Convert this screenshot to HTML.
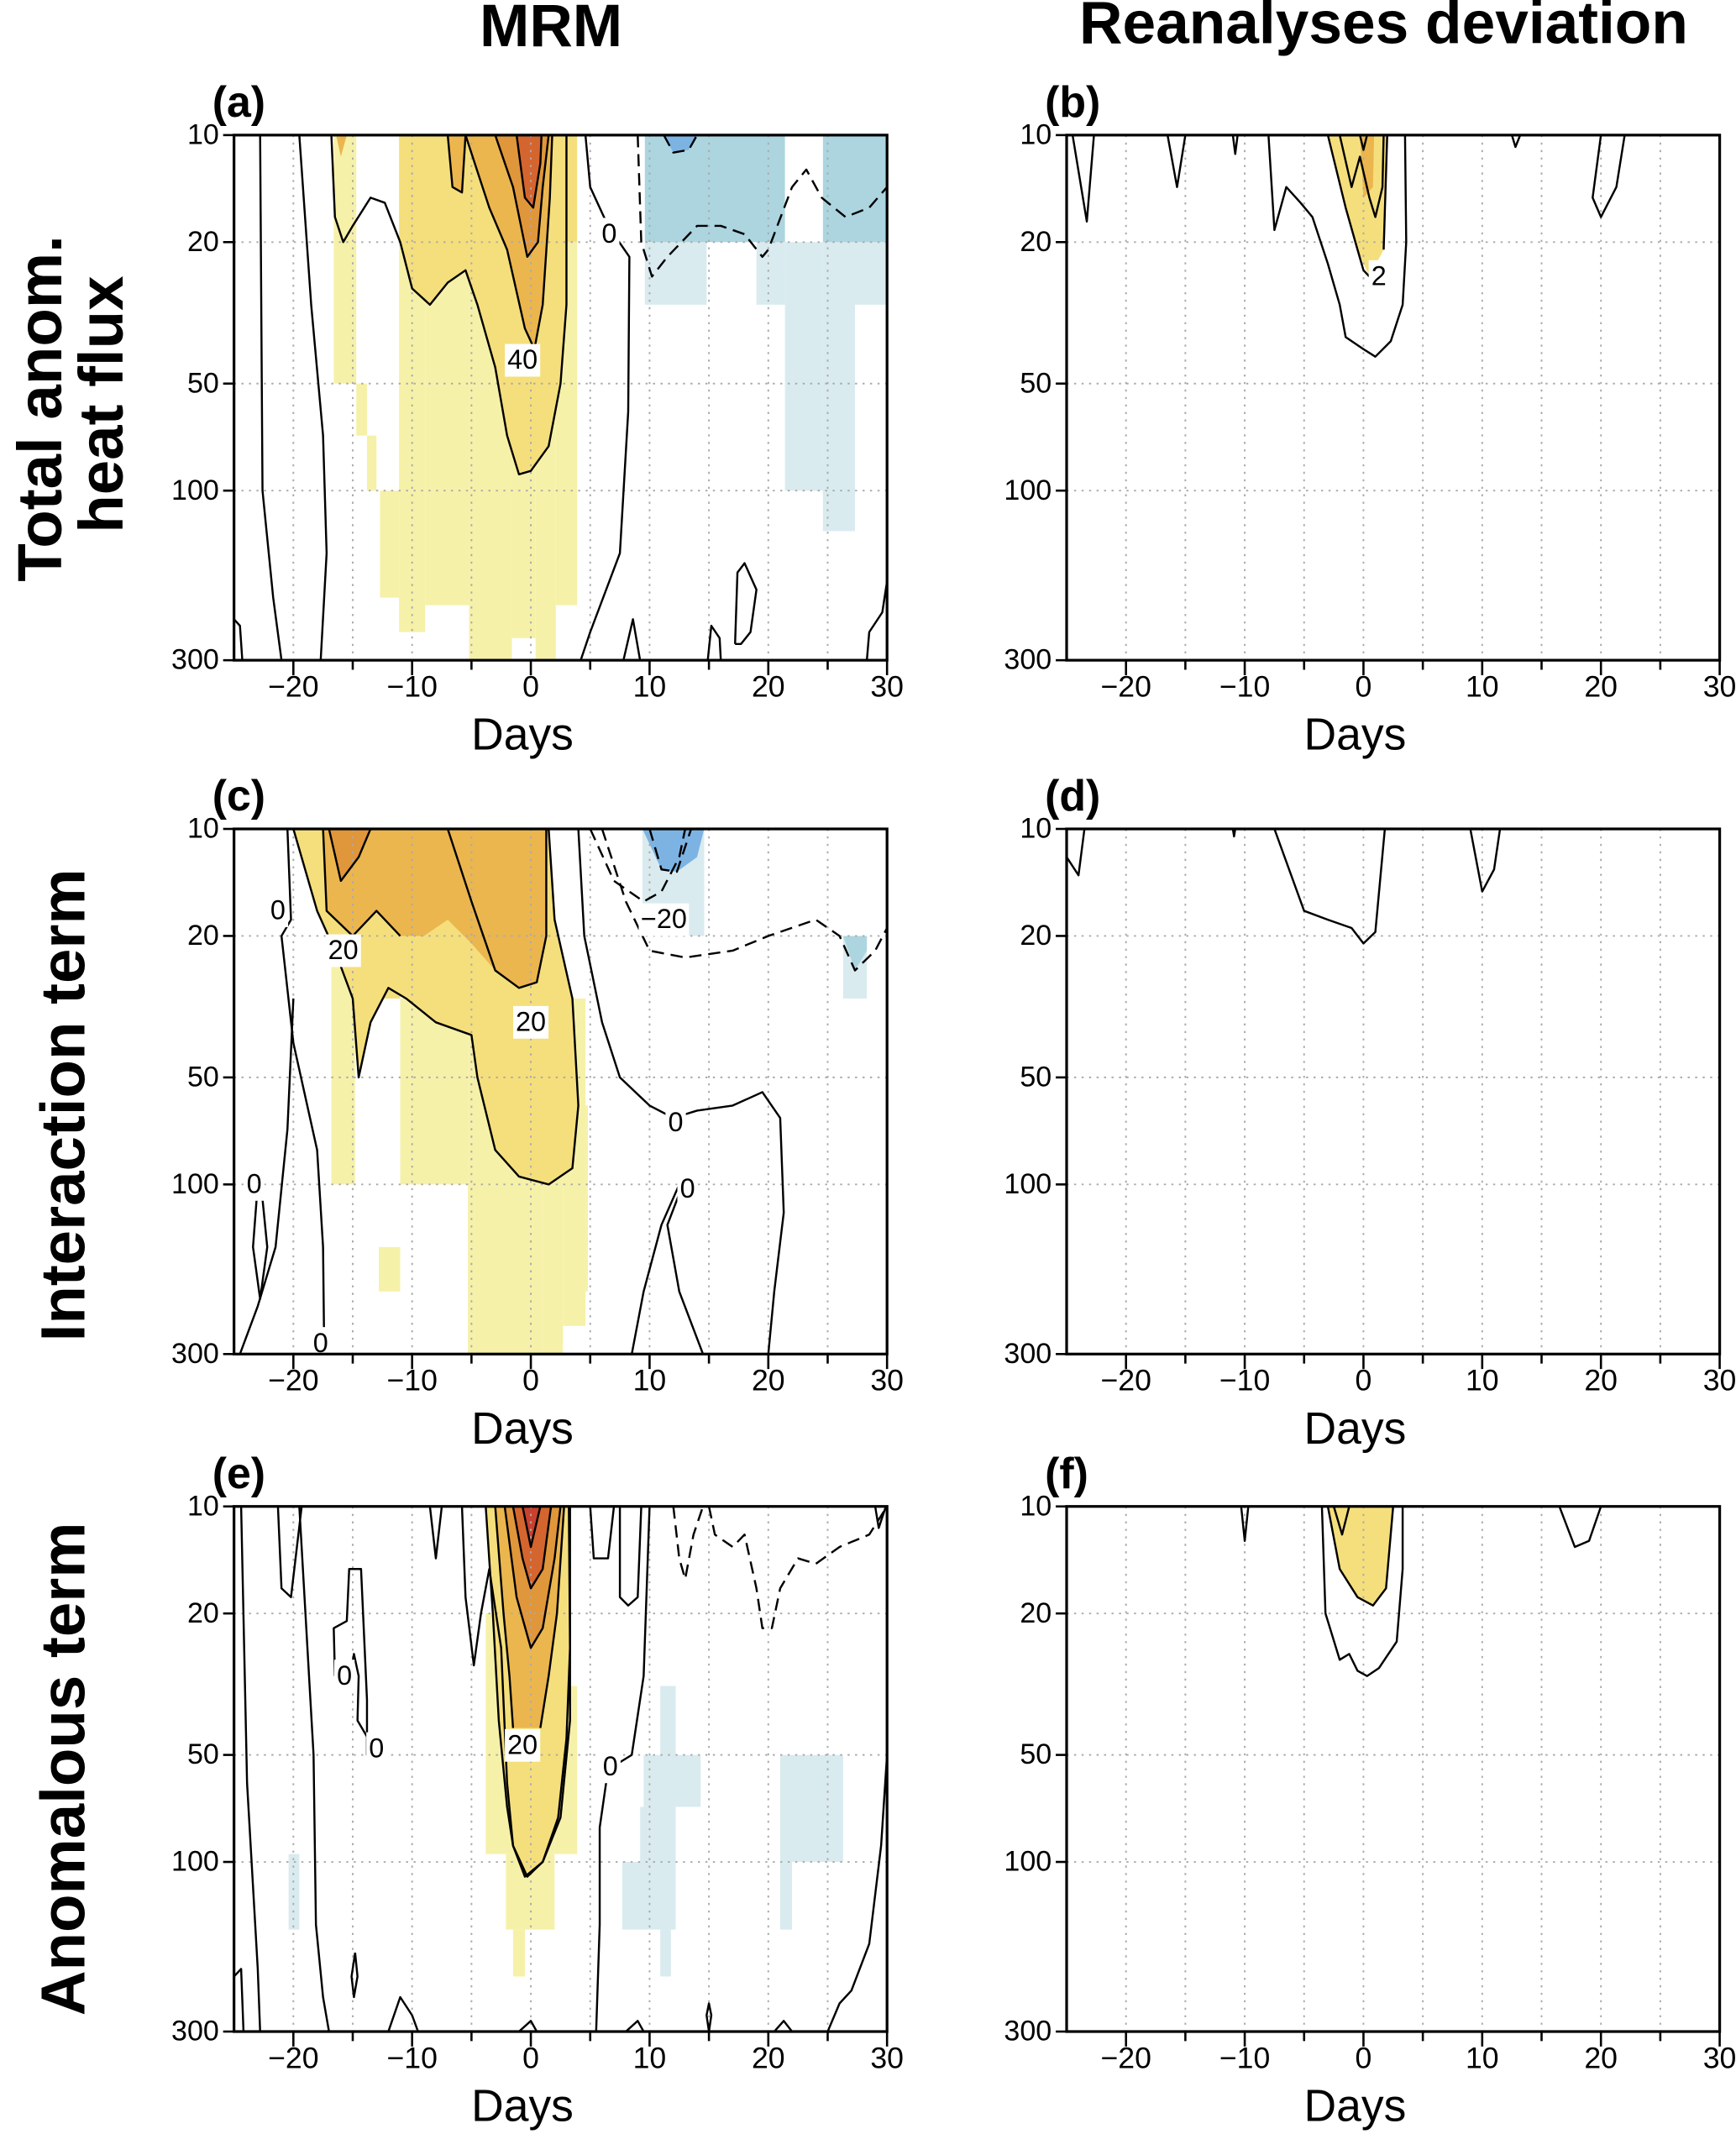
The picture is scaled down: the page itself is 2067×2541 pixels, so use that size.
<!DOCTYPE html>
<html><head><meta charset="utf-8">
<style>
html,body{margin:0;padding:0;background:#fff;}
svg{display:block;font-family:"Liberation Sans",sans-serif;}
</style></head>
<body>
<svg id="fig" width="2067" height="2541" viewBox="0 0 1276 1568" xmlns="http://www.w3.org/2000/svg">
<rect x="0" y="0" width="1276" height="1568" fill="#fff"/>
<text x="405" y="22" font-size="44" font-weight="bold" text-anchor="middle" dominant-baseline="middle">MRM</text>
<text x="1017" y="20" font-size="44" font-weight="bold" text-anchor="middle" dominant-baseline="middle">Reanalyses deviation</text>
<text transform="translate(33,300) rotate(-90)" font-size="46" font-weight="bold" text-anchor="middle" dominant-baseline="middle">Total anom.</text>
<text transform="translate(78,297) rotate(-90)" font-size="46" font-weight="bold" text-anchor="middle" dominant-baseline="middle">heat flux</text>
<text transform="translate(50,812) rotate(-90)" font-size="46" font-weight="bold" text-anchor="middle" dominant-baseline="middle">Interaction term</text>
<text transform="translate(50,1300) rotate(-90)" font-size="46" font-weight="bold" text-anchor="middle" dominant-baseline="middle">Anomalous term</text>
<g id="panels"></g>
</svg>
<script>
// ---- data ----
const dayTicks = [-20,-10,0,10,20,30];
const dayTickLabels = ["\u221220","\u221210","0","10","20","30"];
const presTicks = [10,20,50,100,300];
const presTickLabels = ["10","20","50","100","300"];
const fillColors = ["#f6f1a8","#f5df7c","#ebb64e","#e0963a","#d4652f","#c8412f","#d9ebef","#acd5e0","#7db3e3"];

// panel a
const aCells = [[-16.6,-14.7,10,50,0],[-14.7,-13.8,50,70,0],[-13.8,-13,70,100,0],[-12.7,-11.1,100,200,0],[-11.1,-8.9,20,250,0],[-8.9,-5.2,20,210,0],[-5.2,-1.6,20,300,0],[-1.6,0.4,20,260,0],[0.4,2.1,20,300,0],[2.1,3.9,20,210,0],[-11.1,3.9,10,20,1],
 [9.6,14.8,20,30,6],[19,21.4,20,30,6],[21.4,24.6,20,100,6],[22.8,24.6,85,100,6],[24.6,27.3,20,130,6],[27.3,30,20,30,6],[9.6,21.4,10,20,7],[24.6,30,10,20,7]];
const aFills = [
 {c:1,pts:[[-11,10],[-11,20],[-10,27],[-8.5,30],[-7,26],[-5.5,24],[-4.5,30],[-3,45],[-2,70],[-1,90],[0,88],[1.5,75],[2.5,50],[3,30],[3,10]]},
 {c:2,pts:[[-7,10],[-6.6,14],[-5.8,14.5],[-5.5,10]]},
 {c:2,pts:[[-5.5,10],[-3.5,16],[-2,21],[-0.5,35],[0.3,40],[1,30],[1.6,15],[1.8,10]]},
 {c:3,pts:[[-3,10],[-1.5,14],[-0.3,22],[0.6,20],[1,14],[1.5,10]]},
 {c:4,pts:[[-1.2,10],[-0.5,15],[0.2,16],[0.8,12],[0.9,10]]},
 {c:2,pts:[[-16.4,10],[-16,11.5],[-15.5,10]]},
 {c:8,pts:[[11.2,10],[12,11.2],[13.3,11],[14,10]]}
];
const aLines = [
 {d:0,pts:[[-25,230],[-24.5,240],[-24.3,300]]},
 {d:0,pts:[[-22.8,10],[-22.6,100],[-21.7,200],[-21,300]]},
 {d:0,pts:[[-19.5,10],[-18.5,30],[-17.5,70],[-17.2,150],[-17.7,300]]},
 {d:0,pts:[[-16.8,10],[-16.5,17],[-15.8,20],[-15,18],[-13.5,15],[-12.3,15.5],[-11,20],[-10,27],[-8.5,30],[-7,26],[-5.5,24],[-4.5,30],[-3,45],[-2,70],[-1,90],[0,88],[1.5,75],[2.5,50],[3,30],[3,10]]},
 {d:0,pts:[[-7,10],[-6.6,14],[-5.8,14.5],[-5.5,10]]},
 {d:0,pts:[[-5.5,10],[-3.5,16],[-2,21],[-0.5,35],[0.3,40],[1,30],[1.6,15],[1.8,10]]},
 {d:0,pts:[[-3,10],[-1.5,14],[-0.3,22],[0.6,20],[1,14],[1.5,10]]},
 {d:0,pts:[[-1.2,10],[-0.5,15],[0.2,16],[0.8,12],[0.9,10]]},
 {d:0,pts:[[4.6,10],[5,14],[6.5,18],[8.3,22],[8.2,60],[7.5,150],[5,250],[4.2,300]]},
 {d:0,pts:[[7.8,300],[8.6,230],[9.2,300]]},
 {d:0,pts:[[14.9,300],[15.2,240],[15.9,260],[16,300]]},
 {d:0,pts:[[17.2,270],[17.4,170],[18,160],[19,190],[18.5,250],[17.7,270],[17.2,270]]},
 {d:0,pts:[[28.3,300],[28.5,250],[29.6,220],[30,180]]},
 {d:1,pts:[[9,10],[9.3,20],[10.2,25],[11.5,22],[14,18],[16,18],[18,19],[19.5,22],[20,21],[22,14],[23.2,12.5],[24.5,15],[26.5,17],[28.5,16],[30,14]]},
 {d:1,pts:[[11.2,10],[12,11.2],[13.3,11],[14,10]]}
];
const aLabels = [["40",-0.7,43],["0",6.6,19]];

// panel b
const bFills = [{c:1,pts:[[-3,10],[-1.5,16],[-0.5,21],[0.5,25],[1.7,21],[2,10]]},{c:2,pts:[[-0.3,10],[0,15],[0.8,14],[0.9,10]]}];
const bLines = [
 {d:0,pts:[[-24.5,10],[-23.3,17.5],[-22.7,10]]},
 {d:0,pts:[[-16.5,10],[-15.7,14],[-15,10]]},
 {d:0,pts:[[-11,10],[-10.8,11.3],[-10.6,10]]},
 {d:0,pts:[[-8,10],[-7.5,18.5],[-6.5,14],[-5.3,15.5],[-4.3,17],[-3,23],[-2,30],[-1.5,37],[0,40],[1,42],[2.3,38],[3.3,30],[3.6,20],[3.5,10]]},
 {d:0,pts:[[-3,10],[-1.5,16],[-0.5,21],[0,24],[0.5,25]]},
 {d:0,pts:[[1.7,21],[2,10]]},
 {d:0,pts:[[-2,10],[-1,14],[-0.3,11.5],[0.5,15],[1,17],[1.6,14],[1.7,10]]},
 {d:0,pts:[[-0.3,10],[0,11],[0.3,10]]},
 {d:0,pts:[[20,10],[19.3,15],[20,17],[21.3,14],[22,10]]},
 {d:0,pts:[[12.5,10],[12.8,10.8],[13.2,10]]}
];
const bLabels = [["2",1.3,25]];

// panel c
const cCells = [[-16.8,-14.8,20,100,0],[-12.8,-11,150,200,0],[-11,-5.3,30,100,0],[-5.3,1,30,300,0],[1,2.7,30,300,0],[2.7,4.6,30,250,0],[4.6,4.8,60,200,0],[-13,-11,10,30,1],
 [9.4,14.6,10,20,6],[26.3,28.3,20,30,6]];
const cFills = [
 {c:1,pts:[[-20,10],[-18,17],[-16.5,22],[-15,30],[-14.5,50],[-13.5,35],[-12,28],[-10.5,30],[-8,35],[-5,38],[-4.5,50],[-3,80],[-1,95],[1.5,100],[3.5,90],[4,60],[3.5,30],[2,18],[1.5,10]]},
 {c:2,pts:[[-17.5,10],[-17.2,17],[-15,20],[-13,17],[-11,20],[-9,20],[-7,18],[-5,21],[-3,25],[-1,28],[0.5,27],[1.3,20],[1.3,10]]},
 {c:3,pts:[[-17,10],[-16,14],[-14.5,12],[-13.5,10]]},
 {c:8,pts:[[9.4,10],[11,13],[12.3,13.2],[14,12],[14.6,10]]},
 {c:7,pts:[[26.3,20],[27.3,25],[28.3,22],[28.3,20]]}
];
const cLines = [
 {d:0,pts:[[-20.5,10],[-20.2,18],[-21,20],[-20,40],[-18,80],[-17.5,150],[-17.4,300]]},
 {d:0,pts:[[-23,100],[-23.4,150],[-22.8,210],[-22.2,150],[-22.6,110],[-23,100]]},
 {d:0,pts:[[-24.5,300],[-23,220],[-21.5,150],[-20.5,70],[-20,30]]},
 {d:0,pts:[[-20,10],[-18,17],[-16.5,22],[-15,30],[-14.5,50],[-13.5,35],[-12,28],[-10.5,30],[-8,35],[-5,38],[-4.5,50],[-3,80],[-1,95],[1.5,100],[3.5,90],[4,60],[3.5,30],[2,18],[1.5,10]]},
 {d:0,pts:[[-17.5,10],[-17.2,17],[-15,20],[-13,17],[-11,20]]},
 {d:0,pts:[[-7,10],[-5,16],[-4,20],[-3,25],[-1,28],[0.5,27],[1.3,20],[1.3,10]]},
 {d:0,pts:[[-17,10],[-16,14],[-14.5,12],[-13.5,10]]},
 {d:0,pts:[[4,10],[4.5,20],[6,35],[7.5,50],[10,60],[12,65],[14,62],[17,60],[19.5,55],[21,65],[21.3,120],[20.5,200],[20,300]]},
 {d:0,pts:[[12.8,100],[11.5,130],[12.5,200],[14.5,300]]},
 {d:0,pts:[[8.5,300],[9.5,200],[11,130],[12.5,100]]},
 {d:1,pts:[[5,10],[7,14],[9.5,16],[11,15],[12.5,12],[13,10]]},
 {d:1,pts:[[6,10],[8,16],[10,22],[13,23],[17,22],[20,20],[24,18],[26,20],[27.3,25],[29,22],[30,19]]},
 {d:1,pts:[[10,10],[11,13],[12.3,13.2],[13.5,10]]}
];
const cLabels = [["0",-21.3,17],["20",-15.8,22],["20",0,35],["\u221220",11.2,18],["0",12.2,67],["0",13.2,103],["0",-23.3,100],["0",-17.7,280]];

// panel d
const dLines = [
 {d:0,pts:[[-25,12],[-24,13.5],[-23.5,10]]},
 {d:0,pts:[[-7.5,10],[-5,17],[-3,18],[-1,19],[0,21],[1,19.5],[1.8,10]]},
 {d:0,pts:[[9,10],[10,15],[11,13],[11.5,10]]},
 {d:0,pts:[[-11,10],[-10.9,10.5],[-10.8,10]]}
];

// panel e
const eCells = [[-3.8,2,20,95,0],[-2.1,2,95,155,0],[-1.5,-0.5,155,210,0],[2,3.9,32,95,0],
 [-20.4,-19.5,95,155,6],[10.9,12.2,32,50,6],[9.5,14.3,50,70,6],[9.2,12.2,70,100,6],[7.7,12.2,100,155,6],[10.9,11.8,155,210,6],[21,26.3,50,100,6],[21,22,100,155,6]];
const eFills = [
 {c:1,pts:[[-3.8,10],[-3.2,20],[-2.7,40],[-2,70],[-1.5,90],[-0.3,110],[1,100],[2.3,75],[3,45],[3.3,25],[3.2,10]]},
 {c:2,pts:[[-3,10],[-2.3,20],[-1.8,30],[-1.5,42],[0.8,42],[1.5,30],[2.2,20],[2.8,10]]},
 {c:3,pts:[[-2.2,10],[-1.2,18],[0,25],[1,22],[2,14],[2.5,10]]},
 {c:4,pts:[[-1.5,10],[-0.7,14],[0,17],[1,15],[1.7,10]]},
 {c:5,pts:[[-0.7,10],[0,13],[0.8,10]]}
];
const eLines = [
 {d:0,pts:[[-24.4,10],[-23.9,60],[-23,200],[-22.8,300]]},
 {d:0,pts:[[-25,210],[-24.4,200],[-24.2,300]]},
 {d:0,pts:[[-21.3,10],[-21,17],[-20.2,18],[-19.3,10]]},
 {d:0,pts:[[-19.5,10],[-18.3,50],[-18.1,150],[-17.5,240],[-17,300]]},
 {d:0,pts:[[-16.5,30],[-16.6,22],[-15.5,21],[-15.3,15],[-14.3,15],[-13.8,35],[-13.8,50],[-13.2,44]]},
 {d:0,pts:[[-15.2,30],[-14.9,26],[-14.5,30],[-14.6,40],[-13.7,45]]},
 {d:0,pts:[[-14.8,180],[-14.6,210],[-14.9,240],[-15.1,210],[-14.8,180]]},
 {d:0,pts:[[-12,300],[-11,240],[-10,270],[-9.5,300]]},
 {d:0,pts:[[-8.5,10],[-8,14],[-7.5,10]]},
 {d:0,pts:[[-5.8,10],[-5.5,18],[-4.8,28],[-4.2,20],[-3.5,15],[-2.5,25],[-2,60],[-1.5,90],[-0.5,110],[1,100],[2.5,75],[3.3,40],[3.3,10]]},
 {d:0,pts:[[-3.8,10],[-3.2,20],[-2.7,40],[-2,70],[-1.5,90],[-0.3,110],[1,100],[2.3,75],[3,45],[3.3,25],[3.2,10]]},
 {d:0,pts:[[-3,10],[-2.3,20],[-1.8,30],[-1.5,42]]},
 {d:0,pts:[[0.8,42],[1.5,30],[2.2,20],[2.8,10]]},
 {d:0,pts:[[-2.2,10],[-1.2,18],[0,25],[1,22],[2,14],[2.5,10]]},
 {d:0,pts:[[-1.5,10],[-0.7,14],[0,17],[1,15],[1.7,10]]},
 {d:0,pts:[[-0.7,10],[0,13],[0.8,10]]},
 {d:0,pts:[[-1,300],[0,280],[0.5,300]]},
 {d:0,pts:[[5,10],[5.3,14],[6.5,14],[7,10]]},
 {d:0,pts:[[7.5,10],[7.5,18],[8.2,19],[9,18],[9.3,10]]},
 {d:0,pts:[[10,10],[9.5,30],[8.5,50],[6.5,55],[5.8,80],[5.8,150],[5.5,300]]},
 {d:0,pts:[[8,300],[9,280],[9.5,300]]},
 {d:0,pts:[[15,300],[14.8,270],[15,250],[15.2,270],[15,300]]},
 {d:0,pts:[[20.5,300],[21.3,280],[22,300]]},
 {d:0,pts:[[25,300],[26,250],[27,230],[28.5,170],[29.5,90],[30,50]]},
 {d:0,pts:[[29,10],[29.3,11.5],[29.9,10]]},
 {d:1,pts:[[12,10],[12.5,14],[13,16],[13.7,12],[14.5,10]]},
 {d:1,pts:[[15,10],[15.5,12],[17,13],[18,12],[19,17],[19.5,22],[20.3,22],[21,17],[22.5,14],[24,14.5],[26,13],[28.5,12],[30,10]]}
];
const eLabels = [["0",-15.7,30],["0",-13,48],["20",-0.7,47],["0",6.7,54]];

// panel f
const fFills = [{c:1,pts:[[-3,10],[-2,15],[-0.5,18],[0.8,19],[1.9,17],[2.5,10]]}];
const fLines = [
 {d:0,pts:[[-10.3,10],[-10,12.5],[-9.7,10]]},
 {d:0,pts:[[-3.5,10],[-3.2,20],[-2,27],[-1.2,26],[-0.5,29],[0.3,30],[1.3,28.5],[2.8,24],[3.3,15],[3.3,10]]},
 {d:0,pts:[[-3,10],[-2,15],[-0.5,18],[0.8,19],[1.9,17],[2.5,10]]},
 {d:0,pts:[[-2.5,10],[-1.8,12],[-1.2,10]]},
 {d:0,pts:[[16.5,10],[17.8,13],[19,12.5],[20,10]]}
];

const panels = [
 {id:"a", ox:172, oy:99, cells:aCells, fills:aFills, lines:aLines, labels:aLabels},
 {id:"b", ox:784, oy:99, cells:[], fills:bFills, lines:bLines, labels:bLabels},
 {id:"c", ox:172, oy:609, cells:cCells, fills:cFills, lines:cLines, labels:cLabels},
 {id:"d", ox:784, oy:609, cells:[], fills:[], lines:dLines, labels:[]},
 {id:"e", ox:172, oy:1107, cells:eCells, fills:eFills, lines:eLines, labels:eLabels},
 {id:"f", ox:784, oy:1107, cells:[], fills:fFills, lines:fLines, labels:[]}
];

const NS = "http://www.w3.org/2000/svg";
const W = 480, H = 386;
const root = document.getElementById("panels");
function mk(tag, attrs, parent){ const e=document.createElementNS(NS,tag); for(const k in attrs) e.setAttribute(k,attrs[k]); parent.appendChild(e); return e; }

panels.forEach(p=>{
  const xs = d => p.ox + (d+25)/55*W;
  const ys = v => p.oy + Math.log10(v/10)/Math.log10(30)*H;
  const g = mk("g",{},root);
  
  
  const clipId = "clip"+p.id;
  const cp = mk("clipPath",{id:clipId},g);
  mk("rect",{x:p.ox,y:p.oy,width:W,height:H},cp);
  const inner = mk("g",{"clip-path":"url(#"+clipId+")"},g);
  p.cells.forEach(c=>{
    const r = mk("rect",{x:xs(c[0]),y:ys(c[2]),width:xs(c[1])-xs(c[0]),height:ys(c[3])-ys(c[2]),fill:fillColors[c[4]]},inner);
    
    
  });
  p.fills.forEach(f=>{
    const pg = mk("polygon",{points:f.pts.map(q=>xs(q[0])+","+ys(q[1])).join(" "),fill:fillColors[f.c]},inner);
    
    
  });
  [-20,-15,-10,-5,0,5,10,15,20,25].forEach(d=>{
    const l = mk("line",{x1:xs(d),x2:xs(d),y1:p.oy,y2:p.oy+H,stroke:"#aaa","stroke-width":1.2,"stroke-dasharray":"1.5,4"},inner);
    
    
  });
  [20,50,100].forEach(v=>{
    const l = mk("line",{x1:p.ox,x2:p.ox+W,y1:ys(v),y2:ys(v),stroke:"#aaa","stroke-width":1.2,"stroke-dasharray":"1.5,4"},inner);
    
    
  });
  p.lines.forEach(ln=>{
    const attrs = {points:ln.pts.map(q=>xs(q[0])+","+ys(q[1])).join(" "),fill:"none",stroke:"#000","stroke-width":1.5,"stroke-linejoin":"round"};
    if(ln.d) attrs["stroke-dasharray"]="9,5";
    const pl = mk("polyline",attrs,inner);
    
    
  });
  p.labels.forEach(lb=>{
    const tw = lb[0].length*11+4;
    const bg = mk("rect",{x:xs(lb[1])-tw/2,y:ys(lb[2])-12,width:tw,height:24,fill:"#fff"},inner);
    
    
    const t = mk("text",{x:xs(lb[1]),y:ys(lb[2])+1,"font-size":20,"text-anchor":"middle","dominant-baseline":"middle"},inner);
    t.textContent = lb[0];
    
    
  });
  const fr = mk("rect",{x:p.ox,y:p.oy,width:W,height:H,fill:"none",stroke:"#000","stroke-width":2},g);
  
  
  for(let d=-20; d<=30; d+=5){
    const major = d%10===0;
    const t = mk("line",{x1:xs(d),x2:xs(d),y1:p.oy+H,y2:p.oy+H+(major?11:7),stroke:"#000","stroke-width":1.6},g);
    
    
  }
  dayTicks.forEach((d,i)=>{
    const t = mk("text",{x:xs(d),y:p.oy+H+21,"font-size":22,"text-anchor":"middle","dominant-baseline":"middle"},g);
    t.textContent = dayTickLabels[i];
    
    
  });
  presTicks.forEach((v,i)=>{
    const tk = mk("line",{x1:p.ox-8,x2:p.ox,y1:ys(v),y2:ys(v),stroke:"#000","stroke-width":1.6},g);
    
    
    const t = mk("text",{x:p.ox-11,y:ys(v)+1,"font-size":21,"text-anchor":"end","dominant-baseline":"middle"},g);
    t.textContent = presTickLabels[i];
    
    
  });
  const xt = mk("text",{x:p.ox+W/2-28,y:p.oy+H+57,"font-size":33,"text-anchor":"middle","dominant-baseline":"middle"},g);
  xt.textContent = "Days";
  
  
  const pl = mk("text",{x:p.ox-16,y:p.oy-22,"font-size":32,"font-weight":"bold","dominant-baseline":"middle"},g);
  pl.textContent = "("+p.id+")";
  
  
});
</script>
</body></html>
